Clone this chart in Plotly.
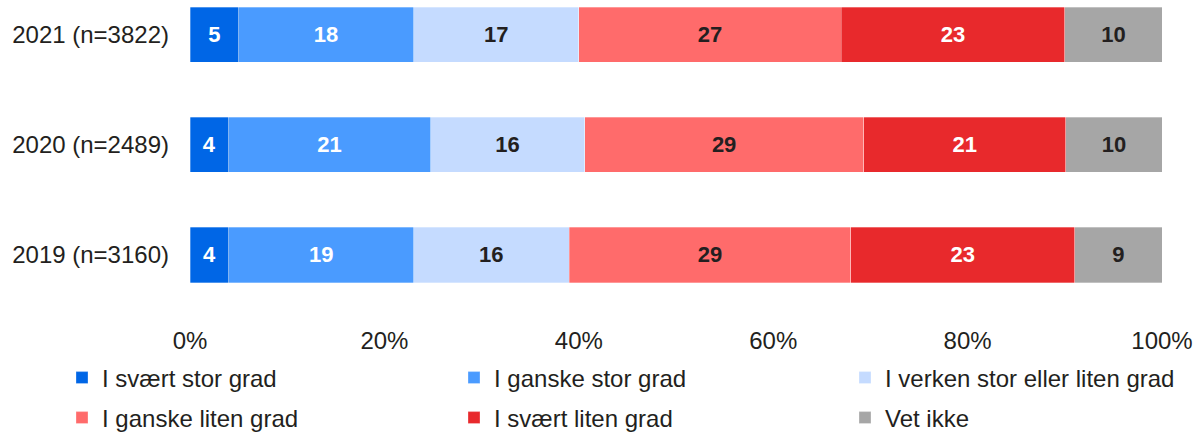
import plotly.graph_objects as go

years = ["2019 (n=3160)", "2020 (n=2489)", "2021 (n=3822)"]
series_names = ["I svært stor grad", "I ganske stor grad", "I verken stor eller liten grad",
                "I ganske liten grad", "I svært liten grad", "Vet ikke"]
v_svaert_stor = [4, 4, 5]
v_ganske_stor = [19, 21, 18]
v_verken = [16, 16, 17]
v_ganske_liten = [29, 29, 27]
v_svaert_liten = [23, 21, 23]
v_vet_ikke = [9, 10, 10]
tick_vals = [0, 20, 40, 60, 80, 100]
tick_text = ["0%", "20%", "40%", "60%", "80%", "100%"]

all_values = [v_svaert_stor, v_ganske_stor, v_verken, v_ganske_liten, v_svaert_liten, v_vet_ikke]
colors = ["#0066E6", "#4A9BFF", "#C5DBFF", "#FF6B6B", "#E8292C", "#A6A6A6"]
text_colors = ["white", "white", "#231F20", "#231F20", "white", "#231F20"]

W, H = 1200, 432
leg_x_px = [62, 454, 845, 62, 454, 845]
leg_y_px = [378, 378, 378, 418, 418, 418]

fig = go.Figure()
layout_legends = {}
for i, (name, vals, c, tc) in enumerate(zip(series_names, all_values, colors, text_colors)):
    lid = "legend" if i == 0 else f"legend{i + 1}"
    fig.add_trace(go.Bar(
        y=years, x=vals, name=name, orientation="h", legend=lid,
        marker=dict(color=c, line=dict(color="rgba(255,255,255,0.6)", width=0.5)),
        text=vals, texttemplate="%{text}", textposition="inside",
        insidetextanchor="middle", textangle=0, constraintext="none",
        textfont=dict(color=tc, size=22, family="Liberation Sans Narrow, Arial Narrow, Liberation Sans", weight="bold"),
        hoverinfo="skip",
    ))
    layout_legends[lid] = dict(
        orientation="h", xref="container", yref="container",
        x=leg_x_px[i] / W, y=(H - leg_y_px[i]) / H,
        xanchor="left", yanchor="middle", itemwidth=30,
        bgcolor="rgba(0,0,0,0)", font=dict(size=24),
    )

fig.update_layout(
    width=W, height=H,
    barmode="stack", barnorm="percent", bargap=0.5,
    plot_bgcolor="white", paper_bgcolor="white",
    margin=dict(l=190, r=38, t=0, b=122, autoexpand=False),
    font=dict(family="Liberation Sans, Arial, sans-serif", size=24, color="#231F20"),
    xaxis=dict(range=[0, 100], tickvals=tick_vals, ticktext=tick_text, showgrid=False,
               zeroline=False, showline=False, ticklabelstandoff=14, fixedrange=True),
    yaxis=dict(range=[-0.5, 2.318], showgrid=False, zeroline=False, showline=False,
               ticklabelstandoff=20, fixedrange=True),
    showlegend=True,
    **layout_legends,
)

fig.write_html("out.html")
